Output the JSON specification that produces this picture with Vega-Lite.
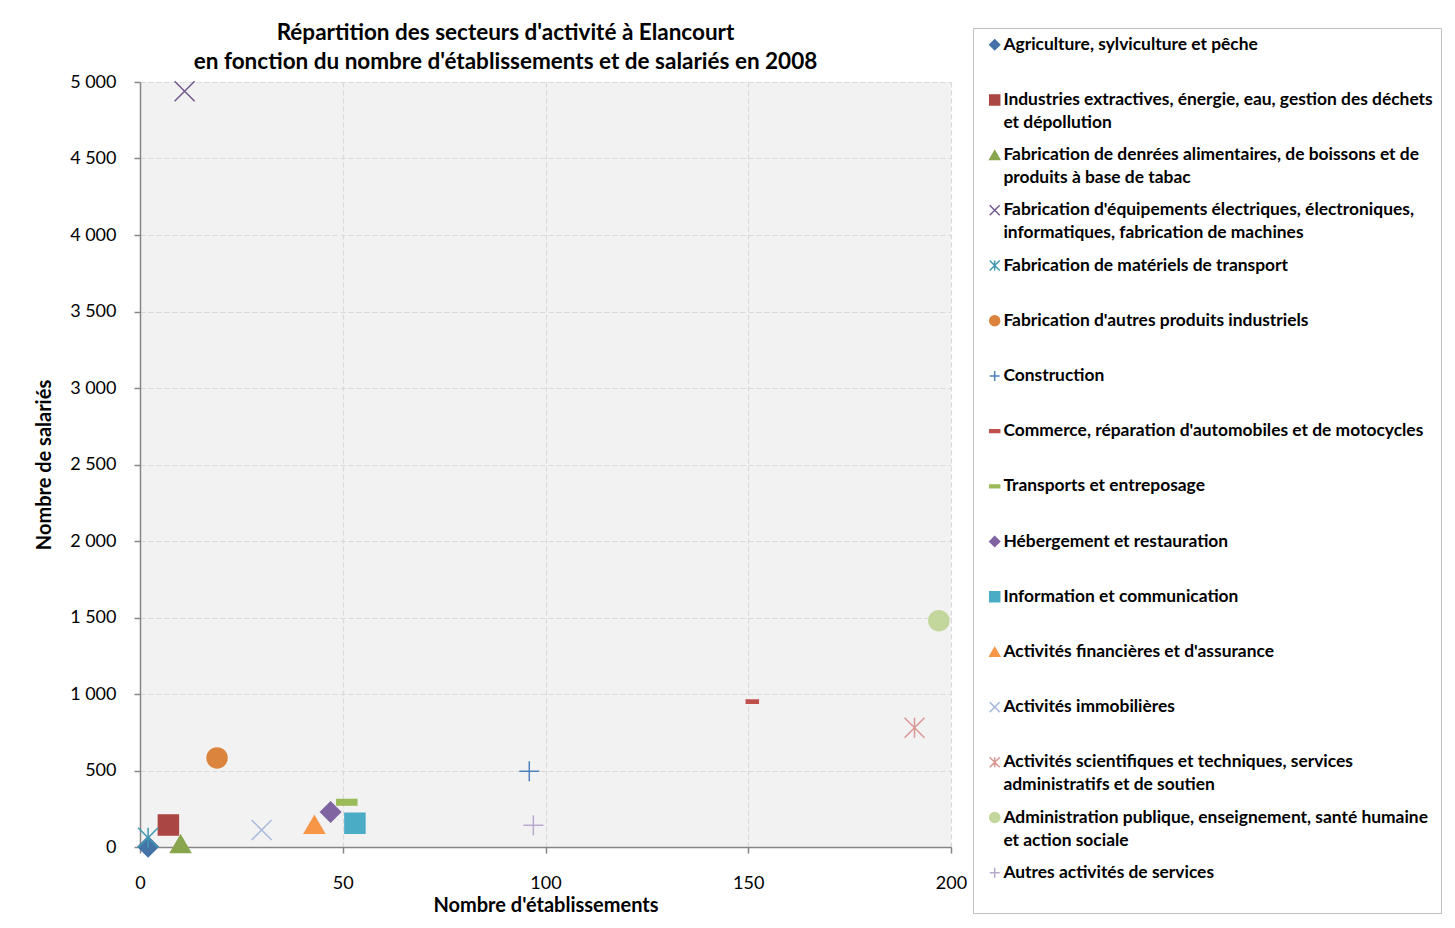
{
  "$schema": "https://vega.github.io/schema/vega-lite/v6.json",
  "autosize": "none",
  "width": 811,
  "height": 765,
  "padding": {"left": 140, "top": 82, "right": 504, "bottom": 81},
  "background": "white",
  "title": {
    "text": ["Répartition des secteurs d'activité à Elancourt", "en fonction du nombre d'établissements et de salariés en 2008"],
    "font": "Lato",
    "fontSize": 22.5,
    "fontWeight": "bold",
    "color": "#000000",
    "anchor": "middle",
    "frame": "group",
    "dx": -40,
    "dy": 58,
    "lineHeight": 29,
    "offset": 12
  },
  "config": {
    "view": {"fill": "#f2f2f2", "stroke": null},
    "font": "Lato",
    "style": {"guide-label": {"lineHeight": 23}},
    "legend": {
      "orient": "none",
      "legendX": 833,
      "legendY": -54,
      "strokeColor": "#bfbfbf",
      "fillColor": "#ffffff",
      "padding": 8,
      "symbolSize": 100,
      "symbolStrokeWidth": 1.5,
      "symbolOffset": 5,
      "labelOffset": 0,
      "labelFont": "Lato",
      "labelFontSize": 17.4,
      "labelFontWeight": "bold",
      "labelColor": "#000000",
      "labelLimit": 600,
      "rowPadding": 13.2
    }
  },
  "data": {
    "values": [
      {"secteur": "Agriculture, sylviculture et pêche", "etablissements": 2, "salaries": 2},
      {"secteur": "Industries extractives, énergie, eau, gestion des déchets\net dépollution", "etablissements": 7, "salaries": 144},
      {"secteur": "Fabrication de denrées alimentaires, de boissons et  de\nproduits à base de tabac", "etablissements": 10, "salaries": 20},
      {"secteur": "Fabrication d'équipements électriques, électroniques,\ninformatiques, fabrication de machines", "etablissements": 11, "salaries": 4940},
      {"secteur": "Fabrication de matériels de transport", "etablissements": 2, "salaries": 60},
      {"secteur": "Fabrication d'autres produits industriels", "etablissements": 19, "salaries": 582},
      {"secteur": "Construction", "etablissements": 96, "salaries": 495},
      {"secteur": "Commerce, réparation d'automobiles et de motocycles", "etablissements": 151, "salaries": 950},
      {"secteur": "Transports et entreposage", "etablissements": 51, "salaries": 292},
      {"secteur": "Hébergement et restauration", "etablissements": 47, "salaries": 229},
      {"secteur": "Information et communication", "etablissements": 53, "salaries": 155},
      {"secteur": "Activités financières et d'assurance", "etablissements": 43, "salaries": 146},
      {"secteur": "Activités immobilières", "etablissements": 30, "salaries": 111},
      {"secteur": "Activités scientifiques et techniques,  services\nadministratifs et de soutien", "etablissements": 191, "salaries": 780},
      {"secteur": "Administration publique, enseignement, santé humaine\net action sociale", "etablissements": 197, "salaries": 1479},
      {"secteur": "Autres activités de services", "etablissements": 97, "salaries": 142}
    ]
  },
  "mark": {"type": "point", "opacity": 1, "strokeWidth": 1.5},
  "encoding": {
    "x": {
      "field": "etablissements",
      "type": "quantitative",
      "scale": {"domain": [0, 200], "nice": false},
      "axis": {
        "title": "Nombre d'établissements",
        "values": [0, 50, 100, 150, 200],
        "grid": true,
        "gridColor": "#d9d9d9",
        "gridDash": [5, 3],
        "gridWidth": 1.2,
        "domainColor": "#868686",
        "domainWidth": 1.5,
        "tickColor": "#868686",
        "tickSize": 6,
        "tickWidth": 1.5,
        "labelFlush": false,
        "labelFont": "Lato",
        "labelFontSize": 18,
        "labelColor": "#000000",
        "labelPadding": 21,
        "titleFont": "Lato",
        "titleFontSize": 20,
        "titleFontWeight": "bold",
        "titleColor": "#000000",
        "titlePadding": 3
      }
    },
    "y": {
      "field": "salaries",
      "type": "quantitative",
      "scale": {"domain": [0, 5000], "nice": false},
      "axis": {
        "title": "Nombre de salariés",
        "values": [0, 500, 1000, 1500, 2000, 2500, 3000, 3500, 4000, 4500, 5000],
        "format": ",d",
        "labelExpr": "replace(datum.label, ',', ' ')",
        "grid": true,
        "gridColor": "#d9d9d9",
        "gridDash": [5, 3],
        "gridWidth": 1.2,
        "domainColor": "#868686",
        "domainWidth": 1.5,
        "tickColor": "#868686",
        "tickSize": 6,
        "tickWidth": 1.5,
        "labelFlush": false,
        "labelFont": "Lato",
        "labelFontSize": 18,
        "labelColor": "#000000",
        "labelPadding": 18,
        "titleFont": "Lato",
        "titleFontSize": 20,
        "titleFontWeight": "bold",
        "titleColor": "#000000",
        "titlePadding": 15
      }
    },
    "shape": {
      "field": "secteur",
      "type": "nominal",
      "scale": {
        "domain": [
          "Agriculture, sylviculture et pêche",
          "Industries extractives, énergie, eau, gestion des déchets\net dépollution",
          "Fabrication de denrées alimentaires, de boissons et  de\nproduits à base de tabac",
          "Fabrication d'équipements électriques, électroniques,\ninformatiques, fabrication de machines",
          "Fabrication de matériels de transport",
          "Fabrication d'autres produits industriels",
          "Construction",
          "Commerce, réparation d'automobiles et de motocycles",
          "Transports et entreposage",
          "Hébergement et restauration",
          "Information et communication",
          "Activités financières et d'assurance",
          "Activités immobilières",
          "Activités scientifiques et techniques,  services\nadministratifs et de soutien",
          "Administration publique, enseignement, santé humaine\net action sociale",
          "Autres activités de services"
        ],
        "range": [
          "diamond",
          "square",
          "triangle-up",
          "M-1,-1L1,1M-1,1L1,-1",
          "M-1,-1L1,1M-1,1L1,-1M0,-1L0,1",
          "circle",
          "M-1,0L1,0M0,-1L0,1",
          "M-1,-0.28L1,-0.28L1,0.28L-1,0.28Z",
          "M-1,-0.28L1,-0.28L1,0.28L-1,0.28Z",
          "diamond",
          "square",
          "triangle-up",
          "M-1,-1L1,1M-1,1L1,-1",
          "M-1,-1L1,1M-1,1L1,-1M0,-1L0,1",
          "circle",
          "M-1,0L1,0M0,-1L0,1"
        ]
      },
      "legend": {
        "title": null,
        "labelExpr": "indexof(datum.label, '\\n') >= 0 ? split(datum.label, '\\n') : [datum.label, ' ']"
      }
    },
    "fill": {
      "field": "secteur",
      "type": "nominal",
      "scale": {
        "domain": [
          "Agriculture, sylviculture et pêche",
          "Industries extractives, énergie, eau, gestion des déchets\net dépollution",
          "Fabrication de denrées alimentaires, de boissons et  de\nproduits à base de tabac",
          "Fabrication d'équipements électriques, électroniques,\ninformatiques, fabrication de machines",
          "Fabrication de matériels de transport",
          "Fabrication d'autres produits industriels",
          "Construction",
          "Commerce, réparation d'automobiles et de motocycles",
          "Transports et entreposage",
          "Hébergement et restauration",
          "Information et communication",
          "Activités financières et d'assurance",
          "Activités immobilières",
          "Activités scientifiques et techniques,  services\nadministratifs et de soutien",
          "Administration publique, enseignement, santé humaine\net action sociale",
          "Autres activités de services"
        ],
        "range": [
          "#4572A7", "#AA4643", "#89A54E", "transparent", "transparent", "#DB843D", "transparent", "#C0504D",
          "#9BBB59", "#8064A2", "#4BACC6", "#F79646", "transparent", "transparent", "#C3D69B", "transparent"
        ]
      },
      "legend": {
        "title": null,
        "labelExpr": "indexof(datum.label, '\\n') >= 0 ? split(datum.label, '\\n') : [datum.label, ' ']"
      }
    },
    "stroke": {
      "field": "secteur",
      "type": "nominal",
      "scale": {
        "domain": [
          "Agriculture, sylviculture et pêche",
          "Industries extractives, énergie, eau, gestion des déchets\net dépollution",
          "Fabrication de denrées alimentaires, de boissons et  de\nproduits à base de tabac",
          "Fabrication d'équipements électriques, électroniques,\ninformatiques, fabrication de machines",
          "Fabrication de matériels de transport",
          "Fabrication d'autres produits industriels",
          "Construction",
          "Commerce, réparation d'automobiles et de motocycles",
          "Transports et entreposage",
          "Hébergement et restauration",
          "Information et communication",
          "Activités financières et d'assurance",
          "Activités immobilières",
          "Activités scientifiques et techniques,  services\nadministratifs et de soutien",
          "Administration publique, enseignement, santé humaine\net action sociale",
          "Autres activités de services"
        ],
        "range": [
          "#4572A7", "#AA4643", "#89A54E", "#71588F", "#4198AF", "#DB843D", "#4F81BD", "#C0504D",
          "#9BBB59", "#8064A2", "#4BACC6", "#F79646", "#A9BCDC", "#D99795", "#C3D69B", "#B9A9CC"
        ]
      },
      "legend": {
        "title": null,
        "labelExpr": "indexof(datum.label, '\\n') >= 0 ? split(datum.label, '\\n') : [datum.label, ' ']"
      }
    },
    "size": {
      "condition": {"test": "indexof(datum.secteur, 'Commerce') === 0", "value": 144},
      "value": 400
    }
  }
}
